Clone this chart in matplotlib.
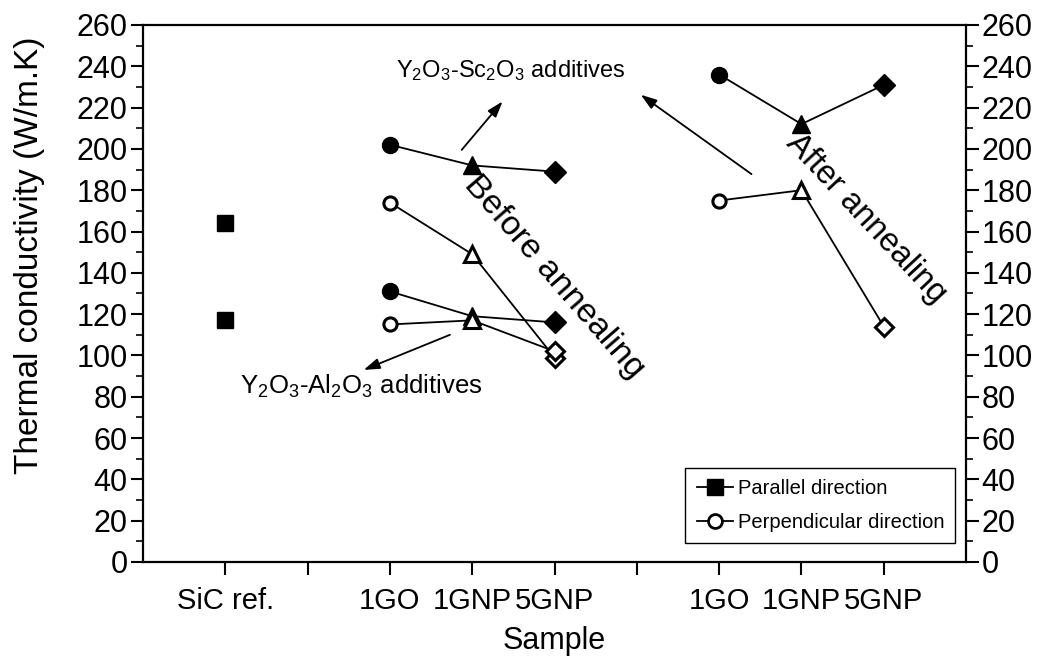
import matplotlib
matplotlib.use("Agg")
import matplotlib.pyplot as plt
from matplotlib.lines import Line2D
from matplotlib.ticker import MultipleLocator

plt.rcParams['font.family'] = ['Liberation Sans', 'DejaVu Sans']
plt.rcParams['mathtext.default'] = 'regular'

# ---- data ----
tick_positions = [1, 2, 3, 4, 5, 6, 7, 8, 9]
tick_labels = ['SiC ref.', '', '1GO', '1GNP', '5GNP', '', '1GO', '1GNP', '5GNP']

sic_x = [1, 1]
sic_y = [164, 117]

before_x = [3, 4, 5]
after_x = [7, 8, 9]

# Before annealing, Y2O3-Sc2O3 additives
sc_par_before = [202, 192, 189]
sc_perp_before = [174, 149, 99]
# Before annealing, Y2O3-Al2O3 additives
al_par_before = [131, 119, 116]
al_perp_before = [115, 117, 102]
# After annealing
par_after = [236, 212, 231]
perp_after = [175, 180, 114]

markers = ['o', '^', 'D']

fig = plt.figure(figsize=(10.49, 6.57), dpi=100)
ax = fig.add_axes([0.1363, 0.1446, 0.921 - 0.1363, 0.962 - 0.1446])

line_kw = dict(color='black', lw=1.3, zorder=2)

def draw_series(xs, ys, filled, zorder=3):
    ax.plot(xs, ys, '-', **line_kw)
    for x, y, m in zip(xs, ys, markers):
        if filled:
            ms = {'o': 11.5, '^': 13.5, 'D': 11}[m]
            ax.plot([x], [y], m, ms=ms, mfc='black', mec='black', zorder=zorder)
        else:
            ms = {'o': 9.5, '^': 12, 'D': 9.5}[m]
            ax.plot([x], [y], m, ms=ms, mfc='white', mec='black', mew=2.2, zorder=zorder + 1)

draw_series(before_x, sc_par_before, True)
draw_series(before_x, sc_perp_before, False)
draw_series(before_x, al_par_before, True)
draw_series(before_x, al_perp_before, False)
draw_series(after_x, par_after, True)
draw_series(after_x, perp_after, False)

ax.plot(sic_x, sic_y, 's', ms=11, mfc='black', mec='black', zorder=3, ls='none')

# arrows and annotations
arrow_kw = dict(arrowstyle='-|>,head_length=0.6,head_width=0.2', color='black', lw=1.3,
                mutation_scale=16)
ax.annotate('', xy=(4.39, 224), xytext=(3.85, 198.5), arrowprops=arrow_kw)
ax.annotate('', xy=(6.02, 227), xytext=(7.42, 187), arrowprops=arrow_kw)
ax.annotate('', xy=(2.65, 92.5), xytext=(3.76, 110.5), arrowprops=arrow_kw)

ax.text(4.47, 238, r'Y$_2$O$_3$-Sc$_2$O$_3$ additives', fontsize=17,
        ha='center', va='center')
ax.text(2.65, 85, r'Y$_2$O$_3$-Al$_2$O$_3$ additives', fontsize=18.5,
        ha='center', va='center')
ax.text(4.99, 138, 'Before annealing', fontsize=24.5, rotation=-49,
        ha='center', va='center', rotation_mode='anchor')
ax.text(8.79, 166, 'After annealing', fontsize=23.5, rotation=-47,
        ha='center', va='center', rotation_mode='anchor')

# axes setup
ax.set_xlim(0, 10)
ax.set_ylim(0, 260)
ax.set_xticks(tick_positions)
ax.set_xticklabels(tick_labels, fontsize=21)
ax.yaxis.set_major_locator(MultipleLocator(20))
ax.yaxis.set_minor_locator(MultipleLocator(10))
ax.tick_params(axis='x', direction='out', length=9, width=1.5, pad=9)
ax.tick_params(axis='y', which='major', direction='out', length=9, width=1.5,
               labelsize=22, left=True, right=True, labelleft=True, labelright=True, pad=2)
ax.tick_params(axis='y', which='minor', direction='out', length=5, width=1.2,
               left=True, right=True)
for s in ax.spines.values():
    s.set_linewidth(1.6)

ax.set_xlabel('Sample', fontsize=22, va='center')
ax.xaxis.set_label_coords(0.5, (562 - 641) / 537)
ax.set_ylabel('Thermal conductivity (W/m.K)', fontsize=24, va='center')
ax.yaxis.set_label_coords((30 - 143) / 823, (562 - 255) / 537)

handles = [
    Line2D([0], [0], color='black', lw=1.3, marker='s', ms=11, mfc='black', mec='black'),
    Line2D([0], [0], color='black', lw=1.3, marker='o', ms=10, mfc='white', mec='black', mew=2),
]
leg = ax.legend(handles, ['Parallel direction', 'Perpendicular direction'],
                loc='lower right', bbox_to_anchor=(0.987, 0.035), fontsize=14.5,
                frameon=True, fancybox=False, edgecolor='black', framealpha=1,
                handlelength=1.8, handletextpad=0.25, borderpad=0.55, labelspacing=0.75,
                borderaxespad=0)
leg.get_frame().set_linewidth(1.0)

fig.savefig('out.png', dpi=100)
